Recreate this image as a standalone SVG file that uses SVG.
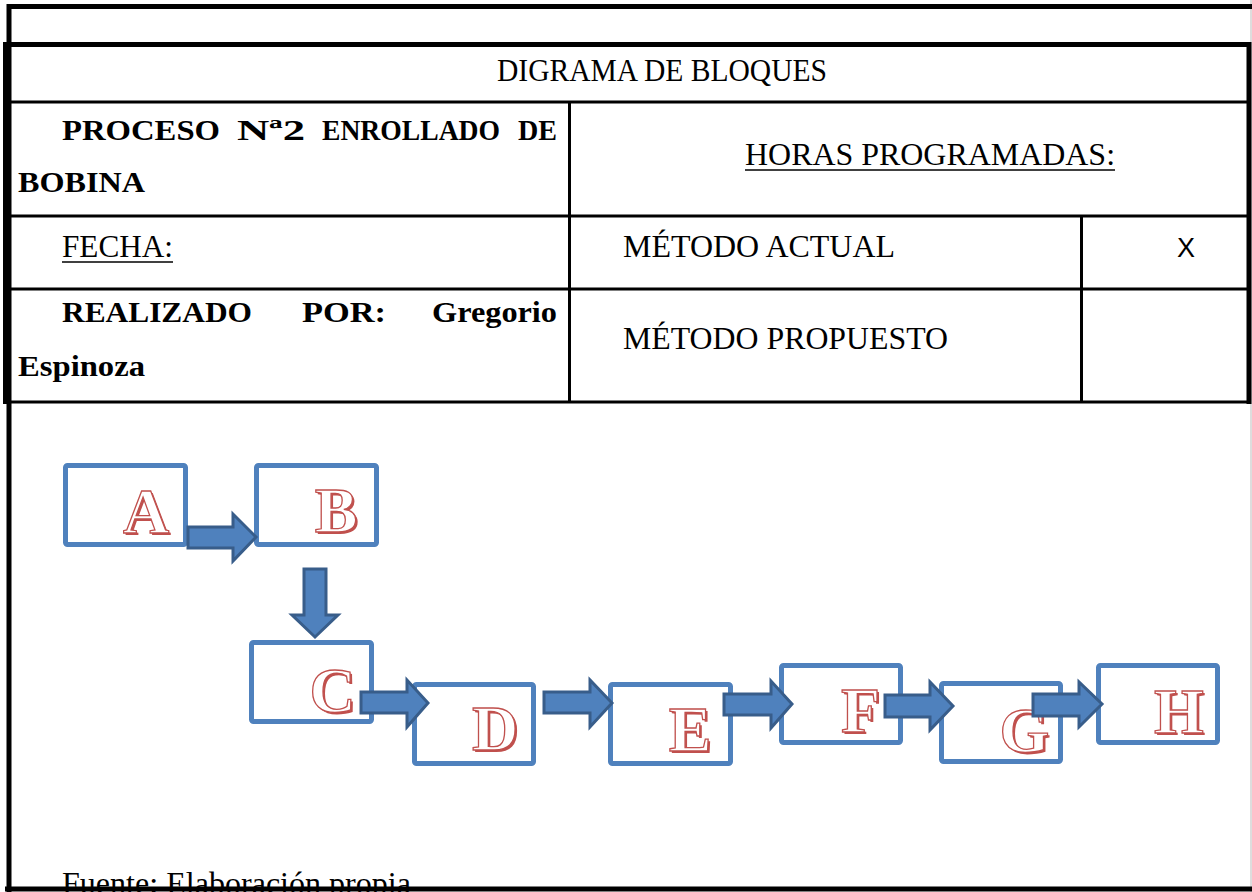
<svg xmlns="http://www.w3.org/2000/svg" width="1252" height="892" viewBox="0 0 1252 892">
<style>
.t{font-family:"Liberation Serif","Times New Roman",serif;font-size:32px;fill:#000}
.b{font-weight:bold;font-size:30px}
.grid{stroke:#000;stroke-width:3;fill:none}
.thick{stroke:#000;stroke-width:5;fill:none}
.box{fill:#fff;stroke:#4F81BD;stroke-width:5}
.lt{font-family:"Liberation Serif","Times New Roman",serif;font-weight:bold;font-size:64px}
.sh{fill:#C0504D}
.fg{fill:#fff;stroke:#C0504D;stroke-width:1.3}
.arr{fill:#4F81BD;stroke:#385D8A;stroke-width:3;stroke-linejoin:miter}
</style>
<rect width="1252" height="892" fill="#fff"/>
<g id="frame">
<line x1="1251" y1="0" x2="1251" y2="892" stroke="#bbb" stroke-width="1"/>
<line x1="7" y1="6.5" x2="1252" y2="6.5" class="thick"/>
<line x1="9" y1="4" x2="9" y2="892" class="thick"/>
</g>
<g id="table">
<line x1="3" y1="44.5" x2="1251" y2="44.5" class="thick"/>
<line x1="5.5" y1="42" x2="5.5" y2="404" class="thick" stroke-width="6"/>
<line x1="1249" y1="42" x2="1249" y2="404" class="thick" stroke-width="4"/>
<line x1="5" y1="102" x2="1250" y2="102" class="grid"/>
<line x1="5" y1="216" x2="1250" y2="216" class="grid"/>
<line x1="5" y1="289" x2="1250" y2="289" class="grid"/>
<line x1="3" y1="402" x2="1250" y2="402" class="grid"/>
<line x1="569.5" y1="102" x2="569.5" y2="402" class="grid"/>
<line x1="1081.5" y1="216" x2="1081.5" y2="402" class="grid"/>
<text class="t" x="662" y="81" text-anchor="middle" textLength="330" lengthAdjust="spacingAndGlyphs">DIGRAMA DE BLOQUES</text>
<text class="t b" x="62" y="140" textLength="158" lengthAdjust="spacingAndGlyphs">PROCESO</text>
<text class="t b" x="237" y="140" textLength="68" lengthAdjust="spacingAndGlyphs">Nª2</text>
<text class="t b" x="322" y="140" textLength="178" lengthAdjust="spacingAndGlyphs">ENROLLADO</text>
<text class="t b" x="518" y="140" textLength="39" lengthAdjust="spacingAndGlyphs">DE</text>
<text class="t b" x="18" y="192" textLength="127" lengthAdjust="spacingAndGlyphs">BOBINA</text>
<text class="t" x="745" y="165" textLength="370" lengthAdjust="spacingAndGlyphs">HORAS PROGRAMADAS:</text>
<line x1="745" y1="170" x2="1115" y2="170" stroke="#000" stroke-width="1.5"/>
<text class="t" x="62" y="257" textLength="111" lengthAdjust="spacingAndGlyphs">FECHA:</text>
<line x1="62" y1="262" x2="173" y2="262" stroke="#000" stroke-width="1.5"/>
<text class="t" x="623" y="257" textLength="272" lengthAdjust="spacingAndGlyphs">MÉTODO ACTUAL</text>
<text x="1186" y="257" font-family="Liberation Sans, Arial, sans-serif" font-size="27" text-anchor="middle">X</text>
<text class="t b" x="62" y="322" textLength="190" lengthAdjust="spacingAndGlyphs">REALIZADO</text>
<text class="t b" x="302" y="322" textLength="84" lengthAdjust="spacingAndGlyphs">POR:</text>
<text class="t b" x="432" y="322" textLength="125" lengthAdjust="spacingAndGlyphs">Gregorio</text>
<text class="t b" x="18" y="376" textLength="127" lengthAdjust="spacingAndGlyphs">Espinoza</text>
<text class="t" x="623" y="349" textLength="325" lengthAdjust="spacingAndGlyphs">MÉTODO PROPUESTO</text>
<text class="t" x="62" y="894" textLength="349" lengthAdjust="spacingAndGlyphs">Fuente: Elaboración propia</text>
<line x1="5" y1="889" x2="1252" y2="889" class="thick"/>
</g>
<g id="node-A"><rect class="box" x="65.5" y="465.5" width="120" height="79" rx="2"/><text class="lt sh" x="148" y="535" text-anchor="middle">A</text><text class="lt fg" x="146" y="533" text-anchor="middle">A</text></g>
<g id="node-B"><rect class="box" x="256.5" y="465.5" width="120" height="79" rx="2"/><text class="lt sh" x="338" y="534" text-anchor="middle">B</text><text class="lt fg" x="336" y="532" text-anchor="middle">B</text></g>
<g id="node-C"><rect class="box" x="251.5" y="642.5" width="120" height="79" rx="2"/><text class="lt sh" x="334.5" y="714" text-anchor="middle">C</text><text class="lt fg" x="332.5" y="712" text-anchor="middle">C</text></g>
<g id="node-D"><rect class="box" x="414.5" y="684.5" width="119" height="79" rx="2"/><text class="lt sh" x="497" y="752" text-anchor="middle">D</text><text class="lt fg" x="495" y="750" text-anchor="middle">D</text></g>
<g id="node-E"><rect class="box" x="610.5" y="684.5" width="120" height="79" rx="2"/><text class="lt sh" x="692" y="753" text-anchor="middle">E</text><text class="lt fg" x="690" y="751" text-anchor="middle">E</text></g>
<g id="node-F"><rect class="box" x="781.5" y="665.5" width="119" height="77" rx="2"/><text class="lt sh" x="862.5" y="734" text-anchor="middle">F</text><text class="lt fg" x="860.5" y="732" text-anchor="middle">F</text></g>
<g id="node-G"><rect class="box" x="941.5" y="683.5" width="119" height="78" rx="2"/><text class="lt sh" x="1026.5" y="754" text-anchor="middle">G</text><text class="lt fg" x="1024.5" y="752" text-anchor="middle">G</text></g>
<g id="node-H"><rect class="box" x="1098.5" y="665.5" width="119" height="77" rx="2"/><text class="lt sh" x="1181" y="735" text-anchor="middle">H</text><text class="lt fg" x="1179" y="733" text-anchor="middle">H</text></g>
<g id="connectors">
<polygon class="arr" points="188,527 233,527 233,514 256,537 233,561 233,548 188,548"/>
<polygon class="arr" points="304,569 326,569 326,615 338,615 315,637 292,615 304,615"/>
<polygon class="arr" points="361,692 407,692 407,680 428,703 407,727 407,713 361,713"/>
<polygon class="arr" points="544,692 590,692 590,680 612,703 590,727 590,713 544,713"/>
<polygon class="arr" points="724,694 771,694 771,681 792,704 771,728 771,715 724,715"/>
<polygon class="arr" points="885,695 930,695 930,682 953,706 930,730 930,717 885,717"/>
<polygon class="arr" points="1033,694 1079,694 1079,682 1102,704 1079,727 1079,716 1033,716"/>
</g>
</svg>
